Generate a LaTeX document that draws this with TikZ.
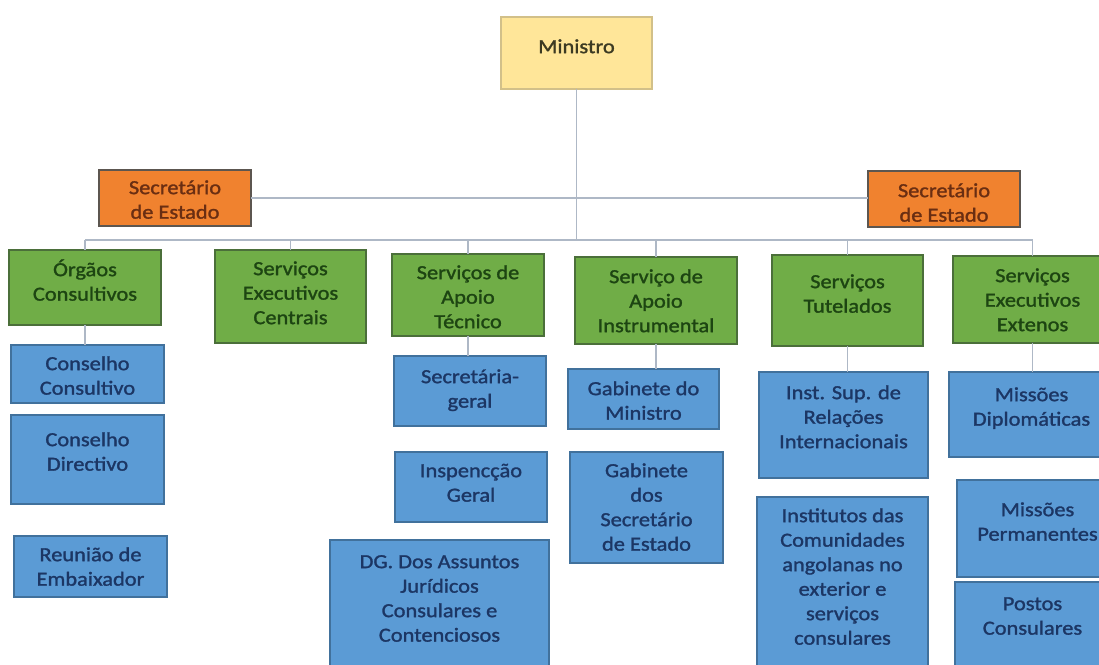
\documentclass[tikz,border=0pt]{standalone}
\usepackage{fontspec}
\setmainfont{Carlito}[FakeStretch=1.12,FakeBold=1.4]
\definecolor{yelfill}{HTML}{FFE699}
\definecolor{yeldraw}{HTML}{D2C089}
\definecolor{yeltext}{HTML}{3C3A22}
\definecolor{orafill}{HTML}{F0822F}
\definecolor{oradraw}{HTML}{5C5650}
\definecolor{oratext}{HTML}{6A2E12}
\definecolor{grefill}{HTML}{70AD47}
\definecolor{gredraw}{HTML}{4B6F3A}
\definecolor{gretext}{HTML}{1D4512}
\definecolor{blufill}{HTML}{5B9BD5}
\definecolor{bludraw}{HTML}{41719C}
\definecolor{blutext}{HTML}{1C3664}
\definecolor{linec}{HTML}{AEB8C6}
\newcommand\obox[8]{%
  \node[#2, anchor=north west, inner sep=0pt, outer sep=0pt,
        minimum width={(#5-#3)*1pt}, minimum height={(#6-#4)*1pt}] (#1) at (#3,#4)
   {\parbox[t][\dimexpr#6pt-#4pt\relax][t]{\dimexpr#5pt-#3pt\relax}{\centering\vspace*{\dimexpr#7pt-11pt\relax}\strut#8\par}};}
\tikzset{
  boxfont/.style={font=\fontsize{20}{24.5}\selectfont},
  yelbox/.style={boxfont, fill=yelfill, draw=yeldraw, line width=1.2pt, text=yeltext},
  orabox/.style={boxfont, fill=orafill, draw=oradraw, line width=1.4pt, text=oratext},
  grebox/.style={boxfont, fill=grefill, draw=gredraw, line width=1.4pt, text=gretext},
  blubox/.style={boxfont, fill=blufill, draw=bludraw, line width=1.4pt, text=blutext},
  conn/.style={draw=linec, line width=1.3pt}
}
\begin{document}
\begin{tikzpicture}[x=1pt,y=-1pt]
\fill[white] (0,0) rectangle (1099,664);
\useasboundingbox (0,0) rectangle (1099,664);
% top levels
\obox{min}{yelbox}{501}{17}{652}{89}{30}{Ministro}
\obox{secL}{orabox}{99}{170}{251}{226}{18}{Secretário\\de Estado}
\obox{secR}{orabox}{868}{171}{1020}{227}{20}{Secretário\\de Estado}
% green
\obox{orgaos}{grebox}{9}{250}{161}{325}{20}{Órgãos\\Consultivos}
\obox{sec}{grebox}{215}{250}{366}{343}{19}{Serviços\\Executivos\\Centrais}
\obox{sat}{grebox}{392}{254}{544}{336}{19}{Serviços de\\Apoio\\Técnico}
\obox{sai}{grebox}{575}{257}{737}{344}{20}{Serviço de\\Apoio\\Instrumental}
\obox{st}{grebox}{772}{255}{923}{346}{27}{Serviços\\Tutelados}
\obox{see}{grebox}{953}{256}{1112}{343}{20}{Serviços\\Executivos\\Extenos}
% blue
\obox{cc}{blubox}{11}{345}{164}{403}{19}{Conselho\\Consultivo}
\obox{cd}{blubox}{11}{415}{164}{504}{25}{Conselho\\Directivo}
\obox{re}{blubox}{14}{536}{167}{597}{19}{Reunião de\\Embaixador}
\obox{sg}{blubox}{394}{356}{546}{426}{21}{Secretária-\\geral}
\obox{ig}{blubox}{395}{452}{547}{522}{19}{Inspencção\\Geral}
\obox{dg}{blubox}{330}{540}{549}{668}{22}{DG. Dos Assuntos\\Jurídicos\\Consulares e\\Contenciosos}
\obox{gm}{blubox}{568}{369}{719}{429}{20}{Gabinete do\\Ministro}
\obox{gs}{blubox}{570}{452}{723}{563}{19}{Gabinete\\dos\\Secretário\\de Estado}
\obox{isr}{blubox}{759}{372}{928}{478}{21}{Inst. Sup. de\\Relações\\Internacionais}
\obox{ic}{blubox}{757}{497}{928}{668}{19}{Institutos das\\Comunidades\\angolanas no\\exterior e\\serviços\\consulares}
\obox{md}{blubox}{949}{372}{1114}{457}{23}{Missões\\Diplomáticas}
\obox{mp}{blubox}{957}{480}{1118}{577}{30}{Missões\\Permanentes}
\obox{pc}{blubox}{955}{582}{1110}{668}{22}{Postos\\Consulares}
% connectors
\coordinate (bus) at (576,240);
\draw[conn] (min.south) -- (min.south |- bus);
\draw[conn] (secL.east) -- (secL.east -| secR.west);
\draw[conn] (orgaos.north |- bus) -- (see.north |- bus);
\foreach \g in {orgaos,sec,sat,sai,st,see}{
  \draw[conn] (\g.north) -- (\g.north |- bus);
}
\draw[conn] (orgaos.south) -- (orgaos.south |- cc.north);
\draw[conn] (sat.south) -- (sat.south |- sg.north);
\draw[conn] (sai.south) -- (sai.south |- gm.north);
\draw[conn] (st.south) -- (st.south |- isr.north);
\draw[conn] (see.south) -- (see.south |- md.north);
\end{tikzpicture}
\end{document}
